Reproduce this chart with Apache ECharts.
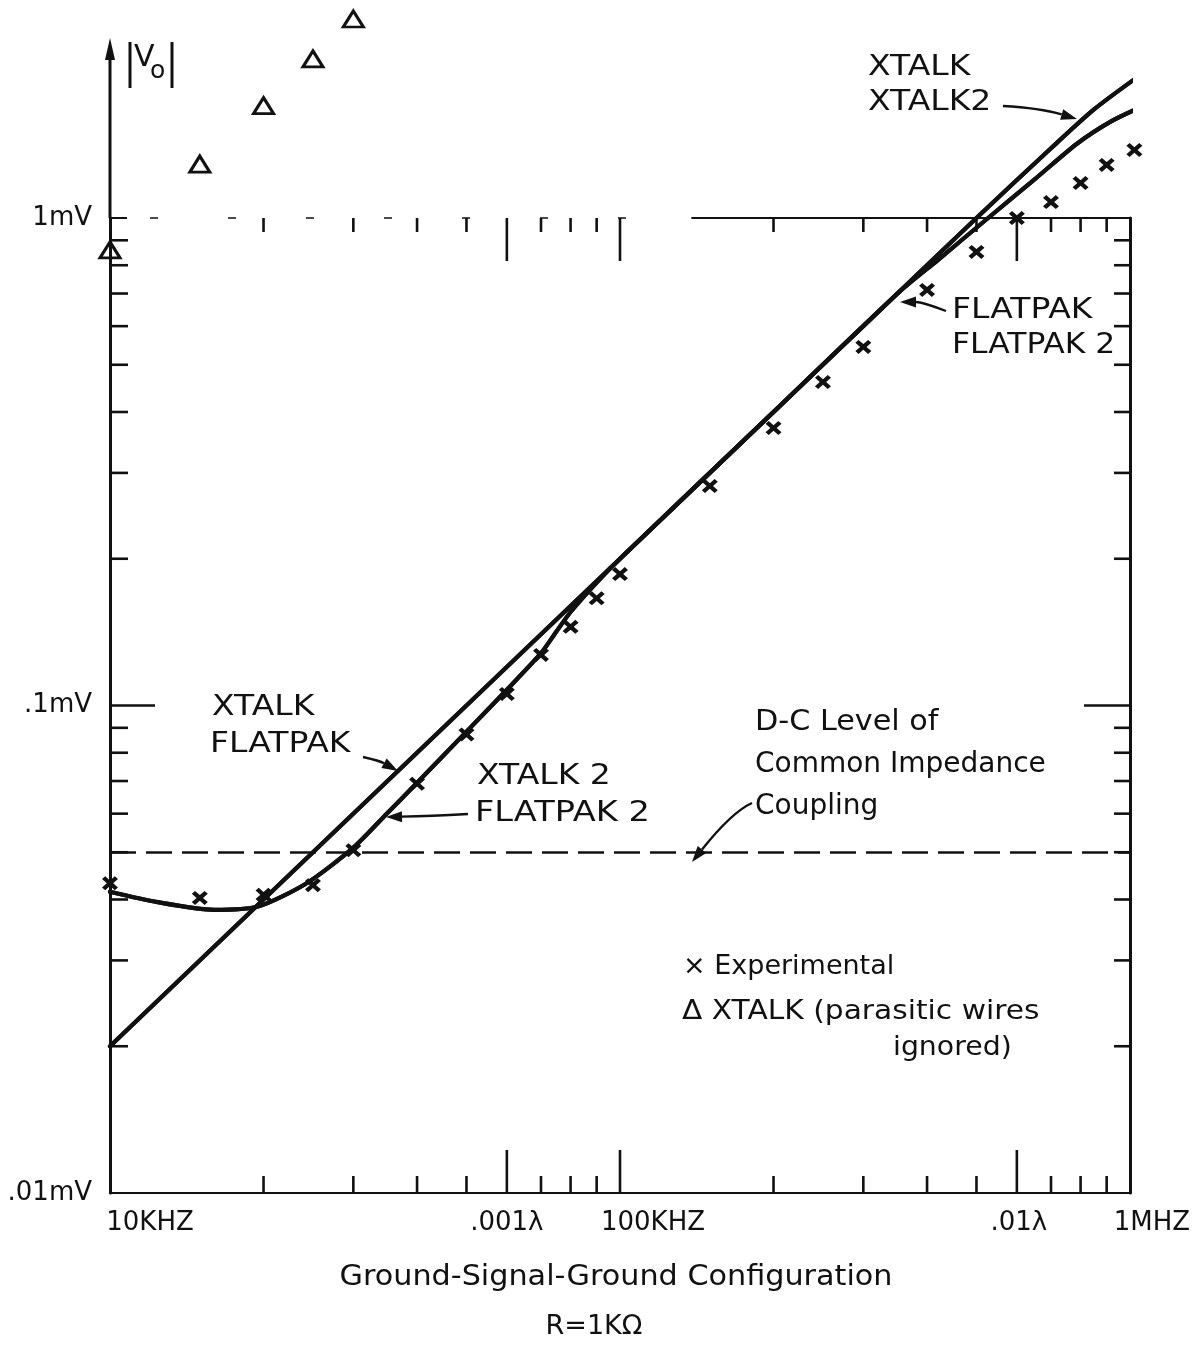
<!DOCTYPE html>
<html>
<head>
<meta charset="utf-8">
<title>Ground-Signal-Ground Configuration</title>
<script src="https://cdn.jsdelivr.net/npm/echarts@6/dist/echarts.min.js"></script>
<style>
  html, body { margin: 0; padding: 0; background: #fff; }
  #chart { width: 1197px; height: 1347px; }
</style>
</head>
<body>
<div id="chart"></div>
<script>
// Crosstalk amplitude |Vo| in mV against frequency in kHz, R = 1 kOhm

// measured points
const experimentalFreq = [10, 15, 20, 25, 30, 40, 50, 60, 70, 80, 90, 100, 150, 200, 250, 300, 400, 500, 600, 700, 800, 900, 1020];
const experimentalVo   = [0.0432, 0.0403, 0.0409, 0.0428, 0.0505, 0.0691, 0.0872, 0.1056, 0.127, 0.145, 0.166, 0.186, 0.282, 0.371, 0.461, 0.544, 0.712, 0.852, 1.0, 1.078, 1.18, 1.285, 1.379];

// XTALK run with the parasitic wires ignored
const parasiticFreq = [10, 15, 20, 25, 30];
const parasiticVo   = [0.86, 1.29, 1.70, 2.12, 2.56];

// computed curves
const xtalkFreq    = [10, 100, 200, 300, 500, 700, 850, 1037];
const xtalkVo      = [0.02, 0.2, 0.4, 0.6, 1.0, 1.39, 1.67, 1.95];
const flatpakFreq  = [10, 100, 200, 350, 420, 527, 650, 787, 920, 1065];
const flatpakVo    = [0.02, 0.2, 0.4, 0.7, 0.82, 1.0, 1.2, 1.42, 1.58, 1.70];
const xtalk2Freq   = [10, 12.4, 16, 19.5, 24.3, 30, 35, 40, 50, 60, 70, 75, 80, 90, 100, 200, 300, 500, 700, 850, 1037];
const xtalk2Vo     = [0.0415, 0.0395, 0.0381, 0.0387, 0.0432, 0.0511, 0.0602, 0.0694, 0.0884, 0.1077, 0.128, 0.1417, 0.1555, 0.1787, 0.2, 0.4, 0.6, 1.0, 1.39, 1.67, 1.95];
const flatpak2Freq = [10, 12.4, 16, 19.5, 24.3, 30, 35, 40, 50, 60, 70, 75, 80, 90, 100, 200, 350, 420, 527, 650, 787, 920, 1065];
const flatpak2Vo   = [0.0415, 0.0395, 0.0381, 0.0387, 0.0432, 0.0511, 0.0602, 0.0694, 0.0884, 0.1077, 0.128, 0.1417, 0.1555, 0.1787, 0.2, 0.4, 0.7, 0.82, 1.0, 1.2, 1.42, 1.58, 1.70];

// d-c level of common impedance coupling
const dcLevelVo = 0.048;

// frame ticks
const xMinorTicks = [20, 30, 40, 50, 70, 80, 90, 200, 300, 400, 500, 700, 800, 900];
const xMajorTicks = [60, 100, 600];
const yMinorTicks = [0.02, 0.03, 0.04, 0.05, 0.06, 0.07, 0.08, 0.09, 0.2, 0.3, 0.4, 0.5, 0.6, 0.7, 0.8, 0.9];
const yMajorTicks = [0.1];

// tick labels
const xLabelValues = [10, 60, 100, 600, 1000];
const xLabelTexts  = ['10KHZ', '.001\u03bb', '100KHZ', '.01\u03bb', '1MHZ'];
const yLabelValues = [0.01, 0.1, 1];
const yLabelTexts  = ['.01mV', '.1mV', '1mV'];

// ---------------------------------------------------------------------------
const ink = '#111';
const FONT = '"DejaVu Sans", "Liberation Sans", sans-serif';
const xLabelShift = [40, 0, 33, 2, 22];   // horizontal nudge of each frequency label (px)
const topFrameSolidFrom = 138;            // kHz where the upper frame line turns solid

const zip = (a, b) => a.map((v, i) => [v, b[i]]);

const crossPath = 'path://M0,2L2,0L5,3L8,0L10,2L7,5L10,8L8,10L5,7L2,10L0,8L3,5Z';

const curve = (name, fx, vy) => ({
  name, type: 'line', data: zip(fx, vy), symbol: 'none', smooth: 0.25,
  clip: false, z: 2, silent: true,
  lineStyle: { color: ink, width: 4.2, cap: 'round', join: 'round' }
});

const chart = echarts.init(document.getElementById('chart'), null, { renderer: 'canvas' });

const option = {
  animation: false,
  backgroundColor: '#fff',
  grid: { left: 110, right: 67, top: 218, bottom: 154, containLabel: false },
  xAxis: {
    type: 'log', logBase: 10, min: 10, max: 1000,
    axisLine: { show: true, lineStyle: { color: ink, width: 2.2 } },
    axisTick: { show: false }, axisLabel: { show: false },
    splitLine: { show: false }, minorTick: { show: false }
  },
  yAxis: [
    {
      type: 'log', logBase: 10, min: 0.01, max: 1, position: 'left',
      axisLine: { show: true, lineStyle: { color: ink, width: 3 } },
      axisTick: { show: false }, splitLine: { show: false },
      axisLabel: {
        show: true, margin: 18, color: ink, fontSize: 26, fontFamily: FONT,
        formatter: (v) => {
          let best = 0;
          yLabelValues.forEach((t, i) => {
            if (Math.abs(Math.log10(t) - Math.log10(v)) < Math.abs(Math.log10(yLabelValues[best]) - Math.log10(v))) best = i;
          });
          return yLabelTexts[best];
        }
      }
    },
    {
      type: 'log', logBase: 10, min: 0.01, max: 1, position: 'right',
      axisLine: { show: true, lineStyle: { color: ink, width: 3 } },
      axisTick: { show: false }, axisLabel: { show: false }, splitLine: { show: false }
    }
  ],
  series: [
    Object.assign(curve('XTALK', xtalkFreq, xtalkVo), {
      markLine: {
        silent: true, symbol: ['none', 'none'], label: { show: false },
        lineStyle: { color: ink, width: 2.6, type: [26, 10], opacity: 1 },
        data: [{ yAxis: dcLevelVo }]
      }
    }),
    curve('FLATPAK', flatpakFreq, flatpakVo),
    curve('XTALK 2', xtalk2Freq, xtalk2Vo),
    curve('FLATPAK 2', flatpak2Freq, flatpak2Vo),
    {
      name: 'Experimental', type: 'scatter', data: zip(experimentalFreq, experimentalVo),
      symbol: crossPath, symbolSize: [16, 14], clip: false, z: 4, silent: true,
      itemStyle: { color: ink, opacity: 1 }
    },
    {
      name: 'XTALK (parasitic wires ignored)', type: 'scatter', data: zip(parasiticFreq, parasiticVo),
      symbol: 'triangle', symbolSize: [20, 16], clip: false, z: 4, silent: true,
      itemStyle: { color: 'rgba(0,0,0,0)', borderColor: ink, borderWidth: 3, opacity: 1 }
    }
  ]
};
chart.setOption(option);

// ---------------------------------------------------------------------------
// frame ticks, upper frame, axis arrow and lettering
function seg(x1, y1, x2, y2, w, dash) {
  return {
    type: 'line', silent: true, z: 10,
    shape: { x1, y1, x2, y2 },
    style: { stroke: ink, lineWidth: w || 2.6, lineDash: dash || null, fill: 'none' }
  };
}
function text(str, x, y, size, opts) {
  opts = opts || {};
  const al = opts.align || 'left';
  return {
    type: 'text', silent: true, z: 10, x, y, scaleX: opts.sx || 1,
    style: {
      text: str, x: 0, y: 0, fill: ink, font: `${size}px ${FONT}`,
      align: al, textAlign: al, verticalAlign: 'middle', textVerticalAlign: 'middle'
    }
  };
}
function arrow(x0, y0, cx, cy, x1, y1) {
  const ang = Math.atan2(y1 - cy, x1 - cx);
  const L = 16, W = 5.5;
  const bx = x1 - L * Math.cos(ang), by = y1 - L * Math.sin(ang);
  const nx = -Math.sin(ang) * W, ny = Math.cos(ang) * W;
  return [
    {
      type: 'bezierCurve', silent: true, z: 10,
      shape: { x1: x0, y1: y0, x2: bx, y2: by, cpx1: cx, cpy1: cy },
      style: { stroke: ink, lineWidth: 2.4, fill: 'none' }
    },
    {
      type: 'polygon', silent: true, z: 10,
      shape: { points: [[x1, y1], [bx + nx, by + ny], [bx - nx, by - ny]] },
      style: { fill: ink }
    }
  ];
}

function buildOverlay() {
  const P = (f, v) => chart.convertToPixel({ xAxisIndex: 0, yAxisIndex: 0 }, [f, v]);
  const [xL, yB] = P(10, 0.01);
  const [xR, yT] = P(1000, 1);
  const g = [];

  xMinorTicks.forEach(f => {
    const x = P(f, 1)[0];
    g.push(seg(x, yB, x, yB - 17));
    g.push(seg(x, yT, x, yT + 14));
  });
  xMajorTicks.forEach(f => {
    const x = P(f, 1)[0];
    g.push(seg(x, yB, x, yB - 43));
    g.push(seg(x, yT, x, yT + 43));
  });
  yMinorTicks.forEach(v => {
    const y = P(10, v)[1];
    g.push(seg(xL, y, xL + 18, y));
    g.push(seg(xR, y, xR - 16, y));
  });
  yMajorTicks.forEach(v => {
    const y = P(10, v)[1];
    g.push(seg(xL, y, xL + 45, y));
    g.push(seg(xR, y, xR - 46, y));
  });

  // upper frame: broken on the left, solid on the right
  const xSolid = P(topFrameSolidFrom, 1)[0];
  g.push(seg(xSolid, yT, xR, yT, 2));
  g.push(seg(xL, yT, xL + 17, yT, 2));
  g.push(seg(xL + 40, yT, xSolid, yT, 1.6, [8, 70]));

  // |Vo| axis continues upward with an arrow
  g.push(seg(xL, yT, xL, yT - 166, 3));
  g.push({ type: 'polygon', silent: true, z: 10,
    shape: { points: [[xL, yT - 180], [xL - 5, yT - 158], [xL + 5, yT - 158]] },
    style: { fill: ink } });
  g.push(seg(130, 42, 130, 88, 3));
  g.push(seg(172, 42, 172, 88, 3));
  g.push(text('V', 134, 58, 30));
  g.push(text('o', 150, 71, 25));

  // frequency labels
  xLabelValues.forEach((f, i) => {
    const x = P(f, 0.01)[0] + xLabelShift[i];
    g.push(text(xLabelTexts[i], x, yB + 30, 26, { align: 'center' }));
  });

  // curve annotations
  const CAPS = 1.18;
  g.push(text('XTALK', 868, 68, 28, { sx: CAPS }));
  g.push(text('XTALK2', 868, 103, 28, { sx: CAPS }));
  g.push(...arrow(1003, 106, 1040, 108, 1077, 119));

  g.push(text('FLATPAK', 952, 311, 28, { sx: CAPS }));
  g.push(text('FLATPAK 2', 952, 346, 28, { sx: 1.12 }));
  g.push(...arrow(946, 311, 922, 302, 900, 302));

  g.push(text('XTALK', 212, 708, 28, { sx: CAPS }));
  g.push(text('FLATPAK', 210, 745, 28, { sx: CAPS }));
  g.push(...arrow(363, 757, 380, 761, 398, 771));

  g.push(text('XTALK 2', 477, 777, 28, { sx: CAPS }));
  g.push(text('FLATPAK 2', 475, 814, 28, { sx: 1.2 }));
  g.push(...arrow(468, 814, 430, 816, 386, 817));

  g.push(text('D-C Level of', 755, 723, 28, { sx: 1.08 }));
  g.push(text('Common Impedance', 755, 765, 28));
  g.push(text('Coupling', 755, 807, 28));
  g.push(...arrow(752, 803, 732, 812, 692, 862));

  // key
  g.push(text('\u00d7 Experimental', 683, 967, 27));
  g.push(text('\u0394 XTALK (parasitic wires', 682, 1012, 27, { sx: 1.1 }));
  g.push(text('ignored)', 893, 1048, 27, { sx: 1.05 }));

  // captions
  g.push(text('Ground-Signal-Ground Configuration', 616, 1278, 28, { align: 'center', sx: 1.08 }));
  g.push(text('R=1K\u03a9', 594, 1327, 27, { align: 'center' }));

  return g;
}

chart.setOption({ graphic: buildOverlay() });
</script>
</body>
</html>
